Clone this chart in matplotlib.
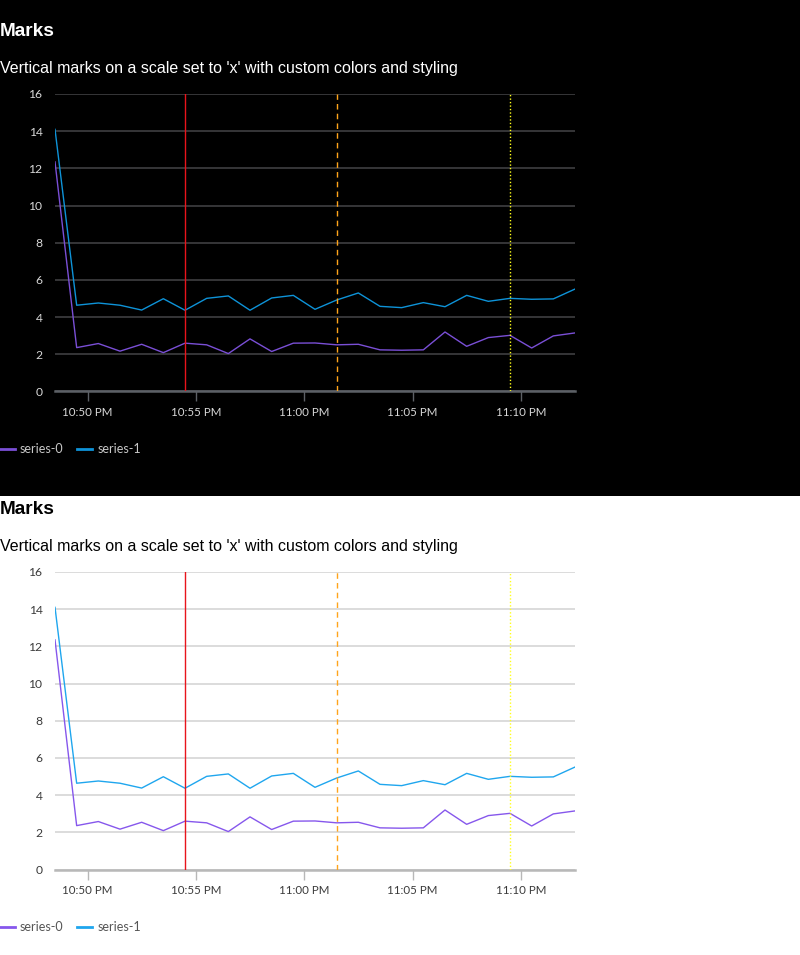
import datetime as dt
import matplotlib
matplotlib.use("Agg")
import matplotlib.pyplot as plt
import matplotlib.dates as mdates
from matplotlib.patches import Rectangle

# ---- data ----
start = dt.datetime(2024, 1, 1, 22, 48, 30)
times = [start + dt.timedelta(minutes=i) for i in range(25)]
series0 = [12.35, 2.36, 2.58, 2.17, 2.54, 2.09, 2.60, 2.51, 2.04, 2.83, 2.15, 2.60, 2.61,
           2.51, 2.54, 2.24, 2.22, 2.24, 3.20, 2.43, 2.90, 3.02, 2.34, 2.99, 3.15]
series1 = [14.10, 4.64, 4.76, 4.64, 4.38, 4.99, 4.37, 5.01, 5.14, 4.37, 5.03, 5.17, 4.42,
           4.92, 5.30, 4.58, 4.51, 4.78, 4.56, 5.17, 4.85, 5.01, 4.96, 4.98, 5.51]
series_names = ["series-0", "series-1"]
mark_times = [dt.datetime(2024, 1, 1, 22, 54, 30),
              dt.datetime(2024, 1, 1, 23, 1, 30),
              dt.datetime(2024, 1, 1, 23, 9, 30)]
mark_colors = ["#E8141B", "#FFA41B", "#FFFF1A"]
mark_styles = ["-", (0, (4, 3)), (0, (1, 1.5))]
y_ticks = [0, 2, 4, 6, 8, 10, 12, 14, 16]
title = "Marks"
subtitle = "Vertical marks on a scale set to 'x' with custom colors and styling"

W, H = 800, 955
fig = plt.figure(figsize=(W / 100, H / 100), dpi=100)
fig.patch.set_facecolor("white")

def fy(p):
    return 1 - p / H

SMALL_FONT = ["Lato", "DejaVu Sans"]

themes = [
    dict(off=0, bg="#000000", fg="#ffffff", grid="#3a3a3c", axis="#5c6066", tick="#d8d8d8",
         legend="#c8c8c8", c0="#7A4FD6", c1="#0E93D8"),
    dict(off=478, bg="#ffffff", fg="#000000", grid="#d9d9d9", axis="#b8b8b8", tick="#3a3a3a",
         legend="#555555", c0="#8657EC", c1="#1FA6EE"),
]

# dark background panel (behind everything)
bgax = fig.add_axes([0, fy(496), 1, 496 / H], zorder=-10)
bgax.set_facecolor("#000000")
bgax.set_axis_off()
bgax.add_patch(Rectangle((0, 0), 1, 1, transform=bgax.transAxes,
                         facecolor="#000000", edgecolor="none"))

for th in themes:
    o = th["off"]
    fig.text(0, fy(36 + o), title, fontsize=13.7, fontweight="bold", color=th["fg"],
             family="Liberation Sans", ha="left", va="baseline")
    fig.text(0, fy(72.5 + o), subtitle, fontsize=11.5, color=th["fg"],
             family="Liberation Sans", ha="left", va="baseline")

    top, bot = 94 + o, 391.5 + o
    ax = fig.add_axes([55 / W, fy(bot), 520 / W, (bot - top) / H])
    ax.set_facecolor(th["bg"])
    l0, = ax.plot(times, series0, color=th["c0"], lw=1.0, zorder=3)
    l1, = ax.plot(times, series1, color=th["c1"], lw=1.0, zorder=3)
    for mt, mc, ms in zip(mark_times, mark_colors, mark_styles):
        ax.axvline(mt, color=mc, lw=1.0, linestyle=ms, zorder=4)
    ax.set_xlim(times[0], times[-1])
    ax.set_ylim(0, 16)
    ax.set_yticks(y_ticks)
    ax.yaxis.grid(True, color=th["grid"], lw=1.3, zorder=1)
    ax.xaxis.grid(False)
    for s in ["top", "right", "left"]:
        ax.spines[s].set_visible(False)
    ax.spines["bottom"].set_color(th["axis"])
    ax.spines["bottom"].set_linewidth(1.8)
    ax.xaxis.set_major_locator(mdates.MinuteLocator(byminute=range(0, 60, 5)))
    ax.xaxis.set_major_formatter(mdates.DateFormatter("%-I:%M %p"))
    ax.tick_params(axis="x", direction="out", length=7, width=1, color=th["axis"],
                   labelcolor=th["tick"], labelsize=8.3, pad=4.5)
    ax.tick_params(axis="y", length=0, labelcolor=th["tick"], labelsize=8.7, pad=9)
    for lab in ax.get_xticklabels() + ax.get_yticklabels():
        lab.set_family(SMALL_FONT)
    leg = fig.legend([l0, l1], series_names, loc="center left",
                     bbox_to_anchor=(0, fy(449 + o)), bbox_transform=fig.transFigure,
                     frameon=False, ncol=2, handlelength=1.2,
                     handletextpad=0.4, columnspacing=1.1, borderpad=0, borderaxespad=0,
                     prop={"family": SMALL_FONT, "size": 9})
    for h in leg.legend_handles:
        h.set_linewidth(2)
    for t in leg.get_texts():
        t.set_color(th["legend"])

fig.savefig("out.png", dpi=100, facecolor=fig.get_facecolor())
